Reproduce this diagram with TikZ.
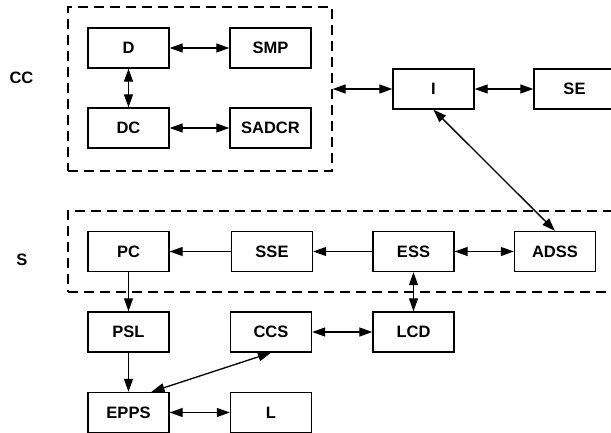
\documentclass[tikz,border=0pt]{standalone}
\usepackage{fontspec}
\setmainfont{Liberation Sans}
\usetikzlibrary{arrows.meta}
\begin{document}
\begin{tikzpicture}[x=1pt,y=-1pt,
  blk/.style={draw,line width=1.4pt,minimum width=81pt,minimum height=40pt,inner sep=0pt,font=\fontsize{16.5}{16.5}\selectfont\bfseries},
  grp/.style={draw,dashed,dash pattern=on 10pt off 6pt,line width=1.3pt,inner sep=0pt},
  lbl/.style={font=\fontsize{16.5}{16.5}\selectfont\bfseries},
  tip/.style={line width=1.3pt,-{Triangle[length=13pt,width=9pt]}},
  bi/.style={line width=1.3pt,{Triangle[length=13pt,width=9pt]}-{Triangle[length=13pt,width=9pt]}}]
\useasboundingbox (0,0) rectangle (611,433);
% groups
\node[grp,minimum width=264pt,minimum height=164pt] (CCbox) at (200,89) {};
\node[grp,minimum width=560pt,minimum height=81pt] (Sbox) at (348,251.5) {};
\node[lbl] (CC) at (21.5,78) {CC};
\node[lbl] (S) at (22,259.5) {S};
% blocks
\node[blk] (D) at (128.5,48) {D};
\node[blk] (SMP) at (270.5,48) {SMP};
\node[blk] (DC) at (128.5,128) {DC};
\node[blk] (SADCR) at (270.5,128) {SADCR};
\node[blk] (I) at (433.5,89) {I};
\node[blk] (SE) at (574.5,89) {SE};
\node[blk] (PC) at (128.5,251.5) {PC};
\node[blk] (SSE) at (272,251.5) {SSE};
\node[blk] (ESS) at (413.5,251.5) {ESS};
\node[blk] (ADSS) at (555,251.5) {ADSS};
\node[blk] (PSL) at (128.5,332) {PSL};
\node[blk] (CCS) at (271,332) {CCS};
\node[blk] (LCD) at (413.5,332) {LCD};
\node[blk] (EPPS) at (128.5,412.5) {EPPS};
\node[blk] (L) at (271,412.5) {L};
% connectors
\draw[bi] (D) -- (SMP);
\draw[bi] (D) -- (DC);
\draw[bi] (DC) -- (SADCR);
\draw[bi] (CCbox.east |- I.west) -- (I.west);
\draw[bi] (I) -- (SE);
\draw[bi] (I.south) -- (ADSS.north);
\draw[tip] (ESS) -- (SSE);
\draw[tip] (SSE) -- (PC);
\draw[bi] (ESS) -- (ADSS);
\draw[bi] (ESS) -- (LCD);
\draw[tip] (PC) -- (PSL);
\draw[tip] (PSL) -- (EPPS);
\draw[bi] (CCS) -- (LCD);
\draw[bi] ([xshift=23pt]EPPS.north) -- (CCS.south);
\draw[bi] (EPPS) -- (L);
\end{tikzpicture}
\end{document}
